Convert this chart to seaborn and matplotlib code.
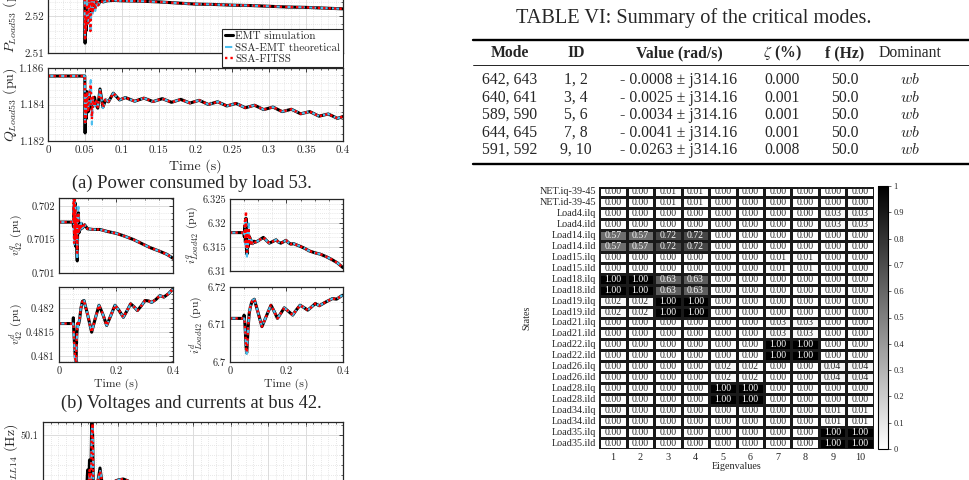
import matplotlib
matplotlib.use("Agg")
import matplotlib.pyplot as plt
import seaborn as sns
import numpy as np
import pandas as pd
from matplotlib.lines import Line2D
from matplotlib.ticker import MultipleLocator, FuncFormatter

# ---------------------------------------------------------------- data
# (a) P_Load53 (pu)
P_t_early = [0.0, 0.0499, 0.0503, 0.0508, 0.0515, 0.053, 0.0545, 0.056, 0.0575, 0.059, 0.0605, 0.062, 0.064, 0.066, 0.068, 0.071, 0.075, 0.08]
P_emt_early = [2.5265, 2.5265, 2.5127, 2.5195, 2.5160, 2.5230, 2.5185, 2.5245, 2.5200, 2.5250, 2.5215, 2.5245, 2.5225, 2.5240, 2.5232, 2.5242, 2.5240, 2.5243]
P_ssa_early = [2.5265, 2.5265, 2.5140, 2.5200, 2.5170, 2.5235, 2.5180, 2.5240, 2.5154, 2.5245, 2.5205, 2.5250, 2.5215, 2.5242, 2.5230, 2.5242, 2.5240, 2.5243]
P_fit_early = [2.5265, 2.5265, 2.5135, 2.5200, 2.5165, 2.5232, 2.5182, 2.5245, 2.5160, 2.5248, 2.5210, 2.5248, 2.5220, 2.5241, 2.5231, 2.5242, 2.5240, 2.5243]
P_t_tail = [0.09, 0.1, 0.125, 0.15, 0.175, 0.2, 0.225, 0.25, 0.275, 0.3, 0.325, 0.35, 0.375, 0.4]
P_tail = [2.5244, 2.5243, 2.5242, 2.5240, 2.5237, 2.5234, 2.5233, 2.5231, 2.5230, 2.5228, 2.5226, 2.5225, 2.5223, 2.5221]

# (a) Q_Load53 (pu)
Q_t_early = [0.0, 0.0499, 0.0503, 0.0508, 0.0515, 0.053, 0.0545, 0.056, 0.058, 0.0595, 0.061, 0.063, 0.065, 0.0675, 0.0705, 0.0745, 0.078, 0.082]
Q_emt_early = [1.18556, 1.18556, 1.18244, 1.18420, 1.18320, 1.18470, 1.18360, 1.18460, 1.18380, 1.18430, 1.18390, 1.18440, 1.18400, 1.18380, 1.18485, 1.18385, 1.18425, 1.18415]
Q_ssa_early = [1.18556, 1.18556, 1.18300, 1.18440, 1.18330, 1.18460, 1.18370, 1.18450, 1.18534, 1.18290, 1.18430, 1.18390, 1.18420, 1.18390, 1.18480, 1.18380, 1.18428, 1.18415]
Q_fit_early = [1.18556, 1.18556, 1.18290, 1.18450, 1.18330, 1.18470, 1.18360, 1.18460, 1.18510, 1.18320, 1.18440, 1.18390, 1.18425, 1.18385, 1.18482, 1.18385, 1.18426, 1.18415]
Q_t_tail = [0.0885, 0.097, 0.105, 0.1175, 0.13, 0.1425, 0.155, 0.1675, 0.18, 0.1925, 0.205, 0.2175, 0.23, 0.2425, 0.255, 0.2675, 0.28, 0.2925, 0.305, 0.3175, 0.33, 0.3425, 0.355, 0.3675, 0.38, 0.3925, 0.4]
Q_tail = [1.18462, 1.18425, 1.18438, 1.18418, 1.18435, 1.18416, 1.18432, 1.18412, 1.18428, 1.18408, 1.18423, 1.18400, 1.18415, 1.18392, 1.18406, 1.18382, 1.18396, 1.18372, 1.18386, 1.18361, 1.18374, 1.18349, 1.18361, 1.18336, 1.18348, 1.18324, 1.18334]

# (b) v^q_42 (pu)
Vq_t_early = [0.0, 0.0499, 0.0502, 0.0515, 0.053, 0.0545, 0.056, 0.058, 0.060, 0.062, 0.064, 0.066, 0.068, 0.070, 0.0725, 0.075, 0.0785, 0.082]
Vq_emt_early = [0.70176, 0.70176, 0.70170, 0.70169, 0.70200, 0.70150, 0.70205, 0.70140, 0.70190, 0.70145, 0.70118, 0.70180, 0.70190, 0.70160, 0.70170, 0.70165, 0.70174, 0.70167]
Vq_ssa_early = [0.70176, 0.70176, 0.70176, 0.70215, 0.70140, 0.70210, 0.70145, 0.70200, 0.70150, 0.70185, 0.70120, 0.70175, 0.70199, 0.70158, 0.70172, 0.70165, 0.70175, 0.70167]
Vq_fit_early = [0.70176, 0.70176, 0.70176, 0.70220, 0.70145, 0.70225, 0.70150, 0.70195, 0.70150, 0.70180, 0.70130, 0.70175, 0.70190, 0.70160, 0.70171, 0.70165, 0.70174, 0.70167]
Vq_t_tail = [0.09, 0.1, 0.12, 0.144, 0.17, 0.2025, 0.23, 0.261, 0.29, 0.319, 0.35, 0.378, 0.4]
Vq_tail = [0.70172, 0.70166, 0.70165, 0.70165, 0.70162, 0.70159, 0.70155, 0.70150, 0.70144, 0.70138, 0.70133, 0.70128, 0.70122]

# (b) i^q_Load42 (pu)
Iq_t_early = [0.0, 0.0495, 0.0499, 0.0515, 0.053, 0.0545, 0.0565, 0.058, 0.0600, 0.062, 0.064, 0.066, 0.068, 0.070, 0.073, 0.076, 0.08, 0.085]
Iq_emt_early = [6.3180, 6.3180, 6.3172, 6.3172, 6.3195, 6.3160, 6.3210, 6.3150, 6.3135, 6.3185, 6.3150, 6.3175, 6.3160, 6.3170, 6.3158, 6.3163, 6.3157, 6.3162]
Iq_ssa_early = [6.3180, 6.3180, 6.3180, 6.3176, 6.3200, 6.3155, 6.3215, 6.3150, 6.3130, 6.3190, 6.3155, 6.3199, 6.3158, 6.3168, 6.3156, 6.3164, 6.3156, 6.3163]
Iq_fit_early = [6.3180, 6.3180, 6.3180, 6.3178, 6.3205, 6.3160, 6.3224, 6.3155, 6.3140, 6.3190, 6.3150, 6.3190, 6.3160, 6.3170, 6.3158, 6.3163, 6.3157, 6.3162]
Iq_t_tail = [0.09, 0.1, 0.118, 0.13, 0.139, 0.15, 0.163, 0.172, 0.18, 0.19, 0.198, 0.207, 0.215, 0.225, 0.233, 0.25, 0.265, 0.28, 0.3, 0.32, 0.34, 0.36, 0.38, 0.4]
Iq_tail = [6.3160, 6.3163, 6.3170, 6.3163, 6.3158, 6.3161, 6.3165, 6.3160, 6.3158, 6.3161, 6.3164, 6.3159, 6.3156, 6.3157, 6.3155, 6.3151, 6.3147, 6.3142, 6.3138, 6.3135, 6.3130, 6.3124, 6.3117, 6.3107]

# (b) v^d_42 (pu)
Vd_t_early = [0.0, 0.0499, 0.0503, 0.0510, 0.0540, 0.0570, 0.0596, 0.0620, 0.0650, 0.0680, 0.0720, 0.0770, 0.0820]
Vd_emt_early = [0.48168, 0.48168, 0.48180, 0.48165, 0.48130, 0.48100, 0.48082, 0.48140, 0.48168, 0.48165, 0.48175, 0.48200, 0.48214]
Vd_ssa_early = [0.48168, 0.48168, 0.48168, 0.48160, 0.48120, 0.48090, 0.48070, 0.48130, 0.48165, 0.48160, 0.48178, 0.48202, 0.48214]
Vd_fit_early = [0.48168, 0.48168, 0.48168, 0.48162, 0.48125, 0.48095, 0.48080, 0.48140, 0.48168, 0.48163, 0.48176, 0.48201, 0.48214]
Vd_t_tail = [0.0877, 0.101, 0.1146, 0.127, 0.1404, 0.154, 0.1673, 0.182, 0.1965, 0.211, 0.2257, 0.239, 0.2515, 0.263, 0.275, 0.289, 0.302, 0.314, 0.325, 0.34, 0.354, 0.368, 0.384, 0.4]
Vd_tail = [0.48216, 0.48185, 0.48150, 0.48178, 0.48206, 0.48187, 0.48164, 0.48185, 0.48206, 0.48195, 0.48181, 0.48195, 0.48209, 0.48203, 0.48195, 0.48205, 0.48216, 0.48215, 0.48212, 0.48218, 0.48226, 0.48223, 0.48230, 0.48240]

# (b) i^d_Load42 (pu)
Id_t_early = [0.0, 0.0495, 0.0499, 0.051, 0.053, 0.055, 0.057, 0.059, 0.061, 0.064, 0.068, 0.073, 0.079]
Id_emt_early = [6.71163, 6.71163, 6.71251, 6.71150, 6.7100, 6.7070, 6.7040, 6.7024, 6.7045, 6.7090, 6.7130, 6.7150, 6.7163]
Id_ssa_early = [6.71163, 6.71163, 6.71163, 6.71140, 6.7098, 6.7068, 6.7036, 6.7022, 6.7040, 6.7088, 6.7131, 6.7152, 6.7164]
Id_fit_early = [6.71163, 6.71163, 6.71163, 6.71145, 6.7099, 6.7070, 6.7040, 6.7026, 6.7044, 6.7090, 6.7130, 6.7151, 6.7163]
Id_t_tail = [0.086, 0.1, 0.113, 0.129, 0.145, 0.157, 0.168, 0.18, 0.192, 0.207, 0.222, 0.235, 0.248, 0.262, 0.275, 0.289, 0.302, 0.316, 0.34, 0.363, 0.377, 0.398]
Id_tail = [6.71674, 6.71300, 6.70943, 6.71230, 6.71515, 6.71340, 6.71163, 6.71300, 6.71445, 6.71350, 6.71251, 6.71390, 6.71515, 6.71450, 6.71383, 6.71470, 6.71559, 6.71500, 6.71604, 6.71692, 6.71675, 6.71780]

# (c) f_PLL14 (Hz)
F_t_early = [0.0, 0.0585, 0.0595, 0.0605, 0.062, 0.0635, 0.065, 0.0662, 0.0675, 0.069, 0.071, 0.0735, 0.076, 0.079, 0.082, 0.085, 0.089, 0.093]
F_emt_early = [50.0, 50.0, 50.03, 49.97, 50.05, 49.96, 50.14, 50.10, 49.95, 49.97, 50.0, 50.01, 50.034, 50.0, 49.985, 49.988, 50.0, 50.006]
F_ssa_early = [50.0, 50.0, 50.0, 49.99, 50.02, 49.97, 50.11, 50.12, 49.96, 49.97, 50.0, 50.01, 50.03, 50.005, 49.99, 49.99, 50.0, 50.006]
F_fit_early = [50.0, 50.0, 50.0, 49.99, 50.03, 49.97, 50.10, 50.123, 49.96, 49.97, 50.0, 50.01, 50.028, 50.005, 49.99, 49.99, 50.0, 50.006]
F_t_tail = [0.1, 0.107, 0.122, 0.138, 0.155, 0.172, 0.186, 0.2, 0.218, 0.235, 0.25, 0.265, 0.283, 0.3, 0.315, 0.33, 0.348, 0.365, 0.38, 0.395, 0.4]
F_tail = [50.010, 50.012, 50.003, 49.992, 49.998, 50.004, 49.999, 49.9945, 49.998, 50.002, 49.999, 49.996, 49.999, 50.0015, 49.999, 49.997, 49.999, 50.001, 49.999, 49.997, 49.997]

series_names = ["EMT simulation", "SSA-EMT theoretical", "SSA-FITSS"]

# Table VI
tab_header = ["Mode", "ID", "Value (rad/s)", r"$\zeta$ (%)", "f (Hz)", "Dominant"]
tab_mode = ["642, 643", "640, 641", "589, 590", "644, 645", "591, 592"]
tab_id = ["1, 2", "3, 4", "5, 6", "7, 8", "9, 10"]
tab_value = ["- 0.0008 \u00b1 j314.16", "- 0.0025 \u00b1 j314.16", "- 0.0034 \u00b1 j314.16",
             "- 0.0041 \u00b1 j314.16", "- 0.0263 \u00b1 j314.16"]
tab_zeta = ["0.000", "0.001", "0.001", "0.001", "0.008"]
tab_freq = ["50.0", "50.0", "50.0", "50.0", "50.0"]
tab_dom = ["wb", "wb", "wb", "wb", "wb"]

# participation heatmap
states = ["NET.iq-39-45", "NET.id-39-45", "Load4.ilq", "Load4.ild", "Load14.ilq", "Load14.ild",
          "Load15.ilq", "Load15.ild", "Load18.ilq", "Load18.ild", "Load19.ilq", "Load19.ild",
          "Load21.ilq", "Load21.ild", "Load22.ilq", "Load22.ild", "Load26.ilq", "Load26.ild",
          "Load28.ilq", "Load28.ild", "Load34.ilq", "Load34.ild", "Load35.ilq", "Load35.ild"]
eigen_ids = [1, 2, 3, 4, 5, 6, 7, 8, 9, 10]
pf = [
    [0.00, 0.00, 0.01, 0.01, 0.00, 0.00, 0.00, 0.00, 0.00, 0.00],
    [0.00, 0.00, 0.01, 0.01, 0.00, 0.00, 0.00, 0.00, 0.00, 0.00],
    [0.00, 0.00, 0.00, 0.00, 0.00, 0.00, 0.00, 0.00, 0.03, 0.03],
    [0.00, 0.00, 0.00, 0.00, 0.00, 0.00, 0.00, 0.00, 0.03, 0.03],
    [0.57, 0.57, 0.72, 0.72, 0.00, 0.00, 0.00, 0.00, 0.00, 0.00],
    [0.57, 0.57, 0.72, 0.72, 0.00, 0.00, 0.00, 0.00, 0.00, 0.00],
    [0.00, 0.00, 0.00, 0.00, 0.00, 0.00, 0.01, 0.01, 0.00, 0.00],
    [0.00, 0.00, 0.00, 0.00, 0.00, 0.00, 0.01, 0.01, 0.00, 0.00],
    [1.00, 1.00, 0.63, 0.63, 0.00, 0.00, 0.00, 0.00, 0.00, 0.00],
    [1.00, 1.00, 0.63, 0.63, 0.00, 0.00, 0.00, 0.00, 0.00, 0.00],
    [0.02, 0.02, 1.00, 1.00, 0.00, 0.00, 0.00, 0.00, 0.00, 0.00],
    [0.02, 0.02, 1.00, 1.00, 0.00, 0.00, 0.00, 0.00, 0.00, 0.00],
    [0.00, 0.00, 0.00, 0.00, 0.00, 0.00, 0.03, 0.03, 0.00, 0.00],
    [0.00, 0.00, 0.00, 0.00, 0.00, 0.00, 0.03, 0.03, 0.00, 0.00],
    [0.00, 0.00, 0.00, 0.00, 0.00, 0.00, 1.00, 1.00, 0.00, 0.00],
    [0.00, 0.00, 0.00, 0.00, 0.00, 0.00, 1.00, 1.00, 0.00, 0.00],
    [0.00, 0.00, 0.00, 0.00, 0.02, 0.02, 0.00, 0.00, 0.04, 0.04],
    [0.00, 0.00, 0.00, 0.00, 0.02, 0.02, 0.00, 0.00, 0.04, 0.04],
    [0.00, 0.00, 0.00, 0.00, 1.00, 1.00, 0.00, 0.00, 0.00, 0.00],
    [0.00, 0.00, 0.00, 0.00, 1.00, 1.00, 0.00, 0.00, 0.00, 0.00],
    [0.00, 0.00, 0.00, 0.00, 0.00, 0.00, 0.00, 0.00, 0.01, 0.01],
    [0.00, 0.00, 0.00, 0.00, 0.00, 0.00, 0.00, 0.00, 0.01, 0.01],
    [0.00, 0.00, 0.00, 0.00, 0.00, 0.00, 0.00, 0.00, 1.00, 1.00],
    [0.00, 0.00, 0.00, 0.00, 0.00, 0.00, 0.00, 0.00, 1.00, 1.00],
]
cbar_ticks = [0, 0.1, 0.2, 0.3, 0.4, 0.5, 0.6, 0.7, 0.8, 0.9, 1]

# ---------------------------------------------------------------- style
W, H = 970, 480
sns.set_style("white")
plt.rcParams["mathtext.fontset"] = "cm"
plt.rcParams["axes.unicode_minus"] = False
SERIF = ["Liberation Serif", "DejaVu Serif"]
FRAME = "#262626"
C_EMT, C_SSA, C_FIT = "black", "#4DBEEE", "#FF0000"


def box(l, t, r, b):
    return [l / W, 1 - b / H, (r - l) / W, (b - t) / H]


fig = plt.figure(figsize=(W / 100, H / 100), dpi=100)
gfmt = FuncFormatter(lambda v, p: f"{v:g}")


def style_ax(ax, xlim, ylim, xmaj, xmin, ymaj, ymin, size=8, xlabels=True):
    ax.set_xlim(*xlim)
    ax.set_ylim(*ylim)
    ax.xaxis.set_major_locator(MultipleLocator(xmaj))
    ax.xaxis.set_minor_locator(MultipleLocator(xmin))
    ax.yaxis.set_major_locator(MultipleLocator(ymaj))
    ax.yaxis.set_minor_locator(MultipleLocator(ymin))
    ax.xaxis.set_major_formatter(gfmt)
    ax.yaxis.set_major_formatter(gfmt)
    ax.grid(True, which="major", color="#dcdcdc", lw=0.7, ls="-")
    ax.grid(True, which="minor", color="#d2d2d2", lw=0.5, ls=(0, (1, 2)))
    ax.set_axisbelow(True)
    ax.tick_params(which="both", direction="in", top=True, right=True,
                   colors=FRAME, labelcolor=FRAME, labelfontfamily="cmr10",
                   labelsize=size, pad=3)
    ax.tick_params(which="major", length=3, width=0.6)
    ax.tick_params(which="minor", length=1.5, width=0.5)
    if not xlabels:
        ax.tick_params(axis="x", which="both", labelbottom=False)
    for s in ax.spines.values():
        s.set_color(FRAME)
        s.set_linewidth(0.9)


def draw(ax, t, emt, ssa, fit):
    sns.lineplot(x=t, y=emt, ax=ax, color=C_EMT, lw=2.2, estimator=None, sort=False)
    sns.lineplot(x=t, y=ssa, ax=ax, color=C_SSA, lw=1.5, linestyle=(0, (3.5, 2)),
                 estimator=None, sort=False)
    sns.lineplot(x=t, y=fit, ax=ax, color=C_FIT, lw=1.7, linestyle=(0, (1, 1.3)),
                 estimator=None, sort=False)


def ylab(ax, text, xfrac, size):
    ax.set_ylabel(text, fontfamily="cmr10", fontsize=size, color=FRAME)
    ax.yaxis.set_label_coords(xfrac, 0.5)


# ---------------------------------------------------------------- (a)
axP = fig.add_axes(box(48, -20, 343, 53))
draw(axP, P_t_early + P_t_tail, P_emt_early + P_tail, P_ssa_early + P_tail, P_fit_early + P_tail)
style_ax(axP, (0, 0.4), (2.51, 2.53), 0.05, 0.01, 0.01, 0.002, xlabels=False)
ylab(axP, r"$P_{Load53}$ (pu)", -0.098, 10)

axQ = fig.add_axes(box(48, 68, 343, 141))
draw(axQ, Q_t_early + Q_t_tail, Q_emt_early + Q_tail, Q_ssa_early + Q_tail, Q_fit_early + Q_tail)
style_ax(axQ, (0, 0.4), (1.182, 1.186), 0.05, 0.01, 0.002, 0.0004)
ylab(axQ, r"$Q_{Load53}$ (pu)", -0.098, 10)
axQ.set_xlabel("Time (s)", fontfamily="cmr10", fontsize=10, color=FRAME, labelpad=3)

handles = [Line2D([], [], color=C_EMT, lw=2.2),
           Line2D([], [], color=C_SSA, lw=1.5, linestyle=(0, (3.5, 2))),
           Line2D([], [], color=C_FIT, lw=1.7, linestyle=(0, (1, 1.3)))]
leg = axP.legend(handles, series_names, loc="lower right",
                 bbox_to_anchor=(343 / W, 1 - 67 / H), bbox_transform=fig.transFigure,
                 prop={"family": "cmr10", "size": 8}, frameon=True, fancybox=False,
                 edgecolor=FRAME, framealpha=1, borderpad=0.25, labelspacing=0.15,
                 handlelength=0.8, handletextpad=0.15, borderaxespad=0)
leg.get_frame().set_linewidth(0.8)
leg.set_zorder(20)

fig.text(192 / W, 1 - 183 / H, "(a) Power consumed by load 53.", ha="center", va="center",
         fontsize=13.3, family=SERIF)

# ---------------------------------------------------------------- (b)
axVq = fig.add_axes(box(59, 198, 173, 273))
draw(axVq, Vq_t_early + Vq_t_tail, Vq_emt_early + Vq_tail, Vq_ssa_early + Vq_tail, Vq_fit_early + Vq_tail)
style_ax(axVq, (0, 0.4), (0.701, 0.70212), 0.2, 0.05, 0.0005, 0.0001, size=7.5, xlabels=False)
ylab(axVq, r"$v^q_{42}$ (pu)", -0.30, 8.5)

axIq = fig.add_axes(box(230, 199, 343, 271))
draw(axIq, Iq_t_early + Iq_t_tail, Iq_emt_early + Iq_tail, Iq_ssa_early + Iq_tail, Iq_fit_early + Iq_tail)
style_ax(axIq, (0, 0.4), (6.31, 6.325), 0.2, 0.05, 0.005, 0.001, size=7.5, xlabels=False)
ylab(axIq, r"$i^q_{Load42}$ (pu)", -0.255, 8.5)

axVd = fig.add_axes(box(59, 287, 173, 362))
draw(axVd, Vd_t_early + Vd_t_tail, Vd_emt_early + Vd_tail, Vd_ssa_early + Vd_tail, Vd_fit_early + Vd_tail)
style_ax(axVd, (0, 0.4), (0.48088, 0.48244), 0.2, 0.05, 0.0005, 0.0001, size=7.5)
ylab(axVd, r"$v^d_{42}$ (pu)", -0.30, 8.5)
axVd.set_xlabel("Time (s)", fontfamily="cmr10", fontsize=8.5, color=FRAME, labelpad=2)

axId = fig.add_axes(box(230, 287, 343, 362))
draw(axId, Id_t_early + Id_t_tail, Id_emt_early + Id_tail, Id_ssa_early + Id_tail, Id_fit_early + Id_tail)
style_ax(axId, (0, 0.4), (6.7, 6.72), 0.2, 0.05, 0.01, 0.002, size=7.5)
ylab(axId, r"$i^d_{Load42}$ (pu)", -0.225, 8.5)
axId.set_xlabel("Time (s)", fontfamily="cmr10", fontsize=8.5, color=FRAME, labelpad=2)

fig.text(191 / W, 1 - 403 / H, "(b) Voltages and currents at bus 42.", ha="center", va="center",
         fontsize=13.3, family=SERIF)

# ---------------------------------------------------------------- (c)
axF = fig.add_axes(box(43, 422, 343, 495))
draw(axF, F_t_early + F_t_tail, F_emt_early + F_tail, F_ssa_early + F_tail, F_fit_early + F_tail)
style_ax(axF, (0, 0.4), (49.98, 50.126), 0.05, 0.01, 0.1, 0.02, size=7.3)
ylab(axF, r"$f_{PLL14}$ (Hz)", -0.075, 10)

# ---------------------------------------------------------------- table
def ft(x, y, s, **kw):
    kw.setdefault("family", SERIF)
    fig.text(x / W, 1 - y / H, s, ha="center", va="center", **kw)


def hrule(y, lw):
    fig.add_artist(Line2D([473 / W, 1.0], [1 - y / H, 1 - y / H], transform=fig.transFigure,
                          color="black", lw=lw))


ft(694, 18, "TABLE VI: Summary of the critical modes.", fontsize=14.6)
hrule(40, 1.7)
hrule(65, 0.6)
hrule(164, 1.7)
colx = [510, 576, 679, 782, 845, 910]
hdr_y = 53
TS = 11.3
for j, h in enumerate(tab_header):
    if j == 5:
        ft(colx[j], hdr_y, h, fontsize=TS)
    elif j == 3:
        ft(colx[j], hdr_y, h, fontsize=TS, weight="bold", math_fontfamily="stix")
    else:
        ft(colx[j], hdr_y, h, fontsize=TS, weight="bold")
row_y = [80, 97.5, 115, 132.5, 150]
for i, y in enumerate(row_y):
    ft(colx[0], y, tab_mode[i], fontsize=TS)
    ft(colx[1], y, tab_id[i], fontsize=TS)
    ft(colx[2], y, tab_value[i], fontsize=TS)
    ft(colx[3], y, tab_zeta[i], fontsize=TS)
    ft(colx[4], y, tab_freq[i], fontsize=TS)
    ft(colx[5], y, "$" + tab_dom[i] + "$", fontsize=TS, math_fontfamily="cm")

# ---------------------------------------------------------------- heatmap
df = pd.DataFrame(pf, index=states, columns=eigen_ids)
axH = fig.add_axes(box(599, 186.5, 874, 448.5))
cax = fig.add_axes(box(878, 186, 888, 449))
sns.heatmap(df, ax=axH, cbar_ax=cax, cmap="gray_r", vmin=0, vmax=1, annot=True, fmt=".2f",
            annot_kws={"fontsize": 7, "family": SERIF}, linewidths=0.8, linecolor="#1a1a1a",
            cbar_kws={"ticks": cbar_ticks}, xticklabels=True, yticklabels=True)
axH.set_yticklabels(states, rotation=0, fontsize=7.3, family=SERIF)
axH.set_xticklabels(eigen_ids, rotation=0, fontsize=7.3, family=SERIF)
axH.tick_params(length=0, pad=2)
axH.tick_params(axis="x", pad=3)
axH.set_ylabel("States", fontsize=7.3, family=SERIF)
axH.yaxis.set_label_coords(-0.245, 0.5)
axH.set_xlabel("Eigenvalues", fontsize=7.3, family=SERIF, labelpad=0)
cax.yaxis.set_major_formatter(gfmt)
cax.tick_params(labelsize=6, length=2, width=0.5, pad=2)
for lab in cax.get_yticklabels():
    lab.set_family(SERIF)
cb = axH.collections[0].colorbar
cb.outline.set_edgecolor("black")
cb.outline.set_linewidth(0.8)

fig.savefig("out.png", dpi=100)
